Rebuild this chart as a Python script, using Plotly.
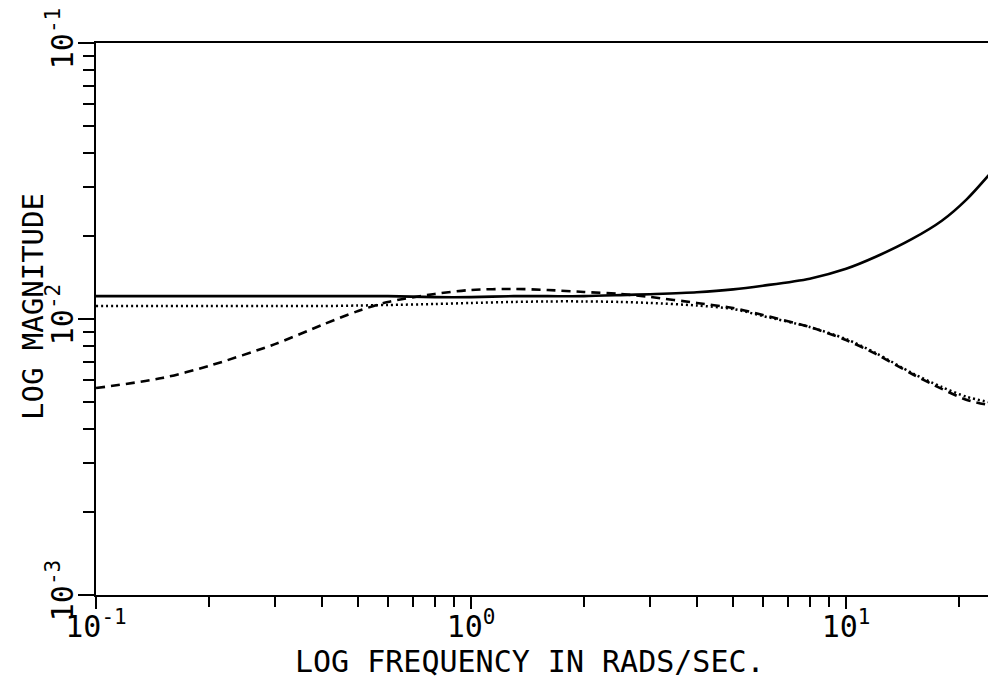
import math
import plotly.graph_objects as go

# Frequency samples (rad/s)
freq = [0.1, 0.15, 0.2, 0.3, 0.4, 0.5, 0.6, 0.8, 1.0, 1.3, 1.6, 2.0, 2.5,
        3.0, 4.0, 5.0, 6.0, 8.0, 10.0, 12.0, 15.0, 18.0, 21.0, 24.0]

# Magnitude responses
mag_solid = [0.0121, 0.0121, 0.0121, 0.0121, 0.0121, 0.0121, 0.0121, 0.0120,
             0.0120, 0.0121, 0.0121, 0.0121, 0.0122, 0.0123, 0.0125, 0.0128,
             0.0132, 0.0140, 0.0152, 0.0168, 0.0195, 0.0227, 0.0272, 0.0332]
mag_dashed = [0.00562, 0.00611, 0.00676, 0.00811, 0.00951, 0.01069, 0.01153,
              0.01232, 0.01274, 0.01285, 0.01274, 0.01253, 0.01232, 0.01202,
              0.01143, 0.01096, 0.01034, 0.00935, 0.00839, 0.00747, 0.00632,
              0.00558, 0.00509, 0.00488]
mag_dotted = [0.01114, 0.01114, 0.01114, 0.01114, 0.01114, 0.01119, 0.01124,
              0.01133, 0.01143, 0.01153, 0.01158, 0.01158, 0.01153, 0.01143,
              0.01119, 0.01087, 0.01025, 0.00935, 0.00846, 0.00753, 0.00637,
              0.00567, 0.00522, 0.00500]

# Axis ticks
x_major = [0.1, 1, 10]
x_major_text = ["10<sup>-1</sup>", "10<sup>0</sup>", "10<sup>1</sup>"]
x_minor = [0.2, 0.3, 0.4, 0.5, 0.6, 0.7, 0.8, 0.9,
           2, 3, 4, 5, 6, 7, 8, 9, 20]
y_major = [0.001, 0.01, 0.1]
y_major_text = ["10<sup>-3</sup>", "10<sup>-2</sup>", "10<sup>-1</sup>"]
y_minor = [0.002, 0.003, 0.004, 0.005, 0.006, 0.007, 0.008, 0.009,
           0.02, 0.03, 0.04, 0.05, 0.06, 0.07, 0.08, 0.09]

FONT = "DejaVu Sans Mono"
W, H = 988, 684
ML, MR, MT, MB = 96, 0, 43, 89

fig = go.Figure()
fig.add_trace(go.Scatter(x=freq, y=mag_solid, mode="lines",
                         line=dict(color="black", width=2.6, shape="spline", smoothing=0.8)))
fig.add_trace(go.Scatter(x=freq, y=mag_dashed, mode="lines",
                         line=dict(color="black", width=2.6, dash="9px,6px",
                                   shape="spline", smoothing=0.8)))
fig.add_trace(go.Scatter(x=freq, y=mag_dotted, mode="lines",
                         line=dict(color="black", width=2.5, dash="2px,3px",
                                   shape="spline", smoothing=0.8)))

axis_common = dict(
    type="log", showgrid=False, zeroline=False,
    showline=True, linewidth=2, linecolor="black",
    ticks="outside", tickwidth=2, tickcolor="black",
    tickfont=dict(family=FONT, size=30, color="black"),
)

fig.update_layout(
    width=W, height=H,
    margin=dict(l=ML, r=MR, t=MT, b=MB, pad=0),
    paper_bgcolor="white", plot_bgcolor="white",
    showlegend=False,
    xaxis=dict(
        **axis_common,
        range=[-1, math.log10(23.9)],
        mirror=True,
        tickvals=x_major, ticktext=x_major_text, ticklen=12,
        ticklabelstandoff=-8,
        minor=dict(tickvals=x_minor, ticks="outside", ticklen=10,
                   tickwidth=2, tickcolor="black", showgrid=False),
    ),
    yaxis=dict(
        **axis_common,
        range=[-3, -1],
        mirror=False,
        tickvals=y_major, ticktext=y_major_text, ticklen=16,
        tickangle=-90, ticklabelstandoff=-7,
        minor=dict(tickvals=y_minor, ticks="outside", ticklen=11,
                   tickwidth=2, tickcolor="black", showgrid=False),
    ),
    annotations=[
        dict(text="LOG FREQUENCY IN RADS/SEC.", xref="paper", yref="paper",
             x=(530 - ML) / (W - ML - MR), y=-(661 - (H - MB)) / (H - MT - MB),
             xanchor="center", yanchor="middle", showarrow=False,
             font=dict(family=FONT, size=30, color="black")),
        dict(text="LOG MAGNITUDE", xref="paper", yref="paper",
             x=(33 - ML) / (W - ML - MR), y=((H - MB) - 307) / (H - MT - MB),
             xanchor="center", yanchor="middle", showarrow=False, textangle=-90,
             font=dict(family=FONT, size=29, color="black")),
    ],
)

fig.write_html("out.html")
